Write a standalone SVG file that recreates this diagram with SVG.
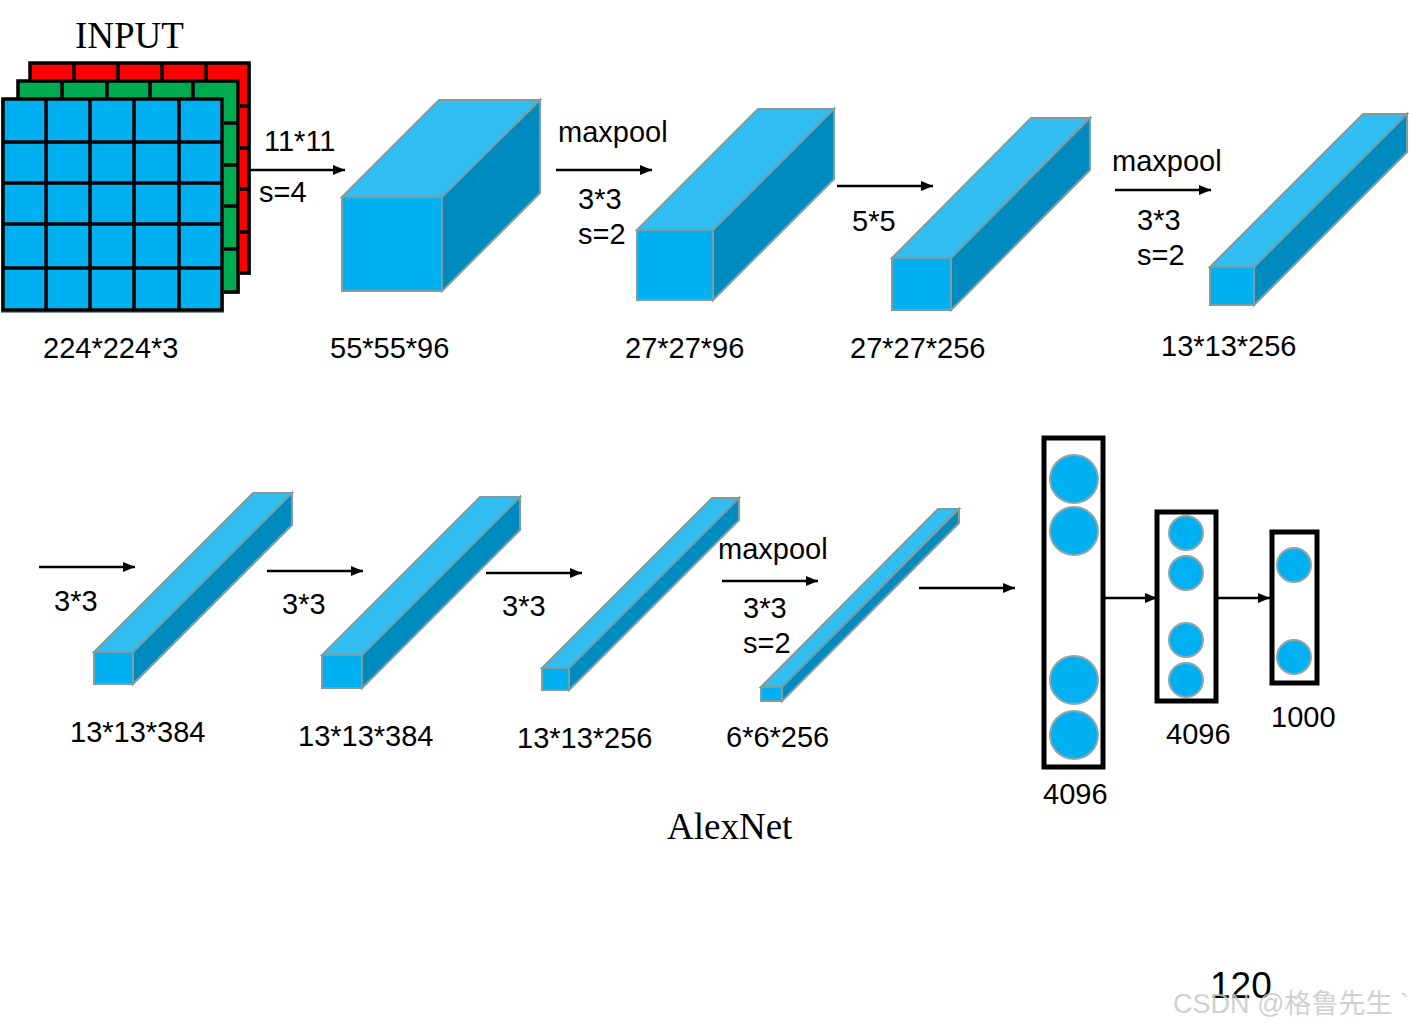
<svg xmlns="http://www.w3.org/2000/svg" width="1409" height="1030" viewBox="0 0 1409 1030">
<defs>
<marker id="ah" markerWidth="12" markerHeight="10" refX="12" refY="5" orient="auto" markerUnits="userSpaceOnUse">
<path d="M0,0 L12,5 L0,10 Z" fill="#000"/>
</marker>
</defs>
<style>
.t{font-family:"Liberation Sans",Arial,sans-serif;font-size:29px;fill:#000}
.s{font-family:"Liberation Serif","Times New Roman",serif;font-size:37px;fill:#000}
.fr{fill:#00B0F0;stroke:#7F9C9F;stroke-width:2}
.tp{fill:#33BEF2;stroke:#7F9C9F;stroke-width:2}
.sd{fill:#008BC0;stroke:#7F9C9F;stroke-width:2}
.g{stroke:#000;stroke-width:3.5;fill:none}
.ar{stroke:#000;stroke-width:2.5;fill:none;marker-end:url(#ah)}
.fc{fill:none;stroke:#000;stroke-width:5}
.n{fill:#00B0F0;stroke:#8FA5A8;stroke-width:2}
</style>
<rect width="1409" height="1030" fill="#fff"/>
<text class="s" x="75" y="48">INPUT</text>
<g id="input">
<rect x="31" y="64" width="220" height="211" fill="#7F9C9F"/>
<rect x="30" y="63" width="219" height="210" fill="#FF0000"/>
<path class="g" d="M30,63H249V273H30Z M74,63V273 M118,63V273 M162,63V273 M206,63V273 M30,106H249 M30,148H249 M30,189H249 M30,232H249"/>
<rect x="19" y="82" width="221" height="212" fill="#7F9C9F"/>
<rect x="18" y="81" width="220" height="211" fill="#00AA50"/>
<path class="g" d="M18,81H238V292H18Z M62,81V292 M107,81V292 M150,81V292 M193,81V292 M18,123H238 M18,165H238 M18,206H238 M18,249H238"/>
<rect x="1" y="98" width="223" height="215" fill="#7F9C9F"/>
<rect x="3" y="99" width="219" height="211" fill="#00B0F0"/>
<path class="g" d="M3,99H222V310H3Z M46,99V310 M90,99V310 M134,99V310 M179,99V310 M3,142H222 M3,183H222 M3,224H222 M3,268H222"/>
</g>
<g id="b1">
<polygon class="tp" points="342,197 442,197 540,100 439,100"/>
<polygon class="sd" points="442,197 540,100 540,193 442,291"/>
<rect class="fr" x="342" y="197" width="100" height="94"/>
</g>
<g id="b2">
<polygon class="tp" points="637,230 713,230 834,109 758,109"/>
<polygon class="sd" points="713,230 834,109 834,179 713,300"/>
<rect class="fr" x="637" y="230" width="76" height="70"/>
</g>
<g id="b3">
<polygon class="tp" points="892,258 951,258 1090,118 1031,118"/>
<polygon class="sd" points="951,258 1090,118 1090,170 951,310"/>
<rect class="fr" x="892" y="258" width="59" height="52"/>
</g>
<g id="b4">
<polygon class="tp" points="1210,267 1254,267 1407,114 1363,114"/>
<polygon class="sd" points="1254,267 1407,114 1407,152 1254,305"/>
<rect class="fr" x="1210" y="267" width="44" height="38"/>
</g>
<g id="b5">
<polygon class="tp" points="94,652 133,652 292,493 253,493"/>
<polygon class="sd" points="133,652 292,493 292,525 133,684"/>
<rect class="fr" x="94" y="652" width="39" height="32"/>
</g>
<g id="b6">
<polygon class="tp" points="322,655 362,655 520,497 480,497"/>
<polygon class="sd" points="362,655 520,497 520,530 362,688"/>
<rect class="fr" x="322" y="655" width="40" height="33"/>
</g>
<g id="b7">
<polygon class="tp" points="542,668 569,668 739,498 712,498"/>
<polygon class="sd" points="569,668 739,498 739,520 569,690"/>
<rect class="fr" x="542" y="668" width="27" height="22"/>
</g>
<g id="b8">
<polygon class="tp" points="761,687 782,687 959,509 938,509"/>
<polygon class="sd" points="782,687 959,509 959,523 782,701"/>
<rect class="fr" x="761" y="687" width="21" height="14"/>
</g>
<g id="fc1">
<rect class="fc" x="1044" y="438" width="59" height="329"/>
<circle class="n" cx="1074" cy="479" r="24"/>
<circle class="n" cx="1074" cy="531" r="24"/>
<circle class="n" cx="1074" cy="680" r="24"/>
<circle class="n" cx="1074" cy="735" r="24"/>
</g>
<g id="fc2">
<rect class="fc" x="1157" y="512" width="59" height="189"/>
<circle class="n" cx="1186" cy="533" r="17"/>
<circle class="n" cx="1186" cy="573" r="17"/>
<circle class="n" cx="1186" cy="640" r="17"/>
<circle class="n" cx="1186" cy="680" r="17"/>
</g>
<g id="fc3">
<rect class="fc" x="1272" y="532" width="45" height="151"/>
<circle class="n" cx="1294" cy="565" r="17"/>
<circle class="n" cx="1294" cy="657" r="17"/>
</g>
<g id="connectors">
<line class="ar" x1="249" y1="170" x2="345" y2="170"/>
<line class="ar" x1="556" y1="170" x2="652" y2="170"/>
<line class="ar" x1="837" y1="186" x2="933" y2="186"/>
<line class="ar" x1="1115" y1="190" x2="1211" y2="190"/>
<line class="ar" x1="39" y1="567" x2="135" y2="567"/>
<line class="ar" x1="267" y1="571" x2="363" y2="571"/>
<line class="ar" x1="486" y1="573" x2="582" y2="573"/>
<line class="ar" x1="722" y1="581" x2="818" y2="581"/>
<line class="ar" x1="919" y1="588" x2="1015" y2="588"/>
<line class="ar" x1="1105" y1="598" x2="1157" y2="598"/>
<line class="ar" x1="1218" y1="598" x2="1270" y2="598"/>
</g>
<g id="labels">
<text class="t" x="264" y="151">11*11</text>
<text class="t" x="259" y="202">s=4</text>
<text class="t" x="558" y="142">maxpool</text>
<text class="t" x="578" y="209">3*3</text>
<text class="t" x="578" y="244">s=2</text>
<text class="t" x="852" y="231">5*5</text>
<text class="t" x="1112" y="171">maxpool</text>
<text class="t" x="1137" y="230">3*3</text>
<text class="t" x="1137" y="265">s=2</text>
<text class="t" x="54" y="611">3*3</text>
<text class="t" x="282" y="614">3*3</text>
<text class="t" x="502" y="616">3*3</text>
<text class="t" x="718" y="559">maxpool</text>
<text class="t" x="743" y="618">3*3</text>
<text class="t" x="743" y="653">s=2</text>
<text class="t" x="43" y="358">224*224*3</text>
<text class="t" x="330" y="358">55*55*96</text>
<text class="t" x="625" y="358">27*27*96</text>
<text class="t" x="850" y="358">27*27*256</text>
<text class="t" x="1161" y="356">13*13*256</text>
<text class="t" x="70" y="742">13*13*384</text>
<text class="t" x="298" y="746">13*13*384</text>
<text class="t" x="517" y="748">13*13*256</text>
<text class="t" x="726" y="747">6*6*256</text>
<text class="t" x="1043" y="804">4096</text>
<text class="t" x="1166" y="744">4096</text>
<text class="t" x="1271" y="727">1000</text>
<text class="s" x="667" y="839">AlexNet</text>
<text class="t" x="1210" y="998" style="font-size:37px">120</text>
<text x="1173" y="1013" style="font-family:'Liberation Sans','Noto Sans CJK SC',sans-serif;font-size:27px;fill:#C8C8C8;fill-opacity:0.85">CSDN @格鲁先生 `</text>
</g>
</svg>
